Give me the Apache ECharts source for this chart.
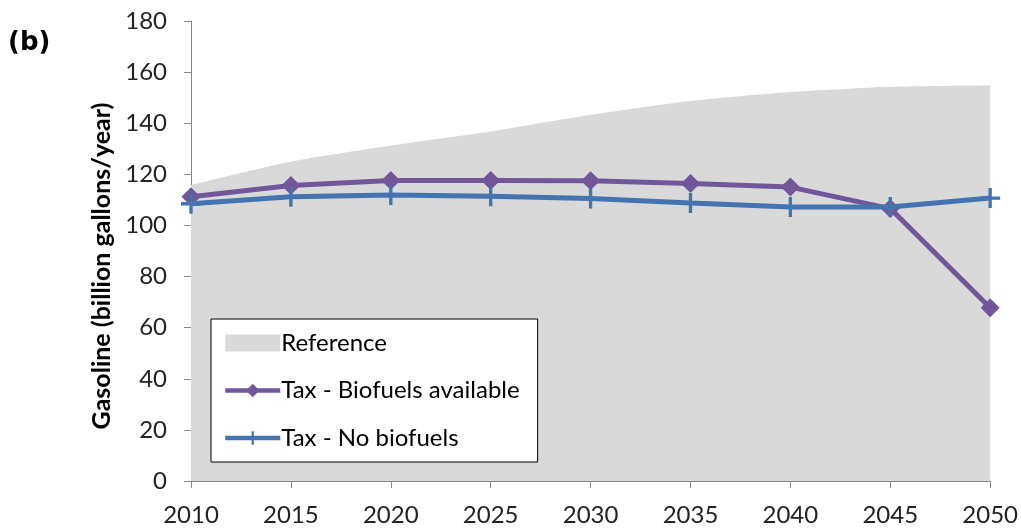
<!DOCTYPE html>
<html>
<head>
<meta charset="utf-8">
<script src="https://cdn.jsdelivr.net/npm/echarts@6/dist/echarts.min.js"></script>
<style>
  html, body { margin: 0; padding: 0; background: #fff; }
  #chart { width: 1021px; height: 529px; }
</style>
</head>
<body>
<div id="chart"></div>
<script>
// data
const years = ['2010', '2015', '2020', '2025', '2030', '2035', '2040', '2045', '2050']
const referenceValues = [115.8, 125, 131.3, 136.8, 143.3, 148.7, 152.2, 154.3, 154.8]
const biofuelsValues = [111.2, 115.6, 117.6, 117.6, 117.5, 116.4, 115.0, 106.6, 67.8]
const noBiofuelsValues = [108.5, 111.2, 111.9, 111.4, 110.5, 108.8, 107.2, 107.2, 110.7]
const yTicks = { min: 0, max: 180, interval: 20 }

const purple = '#71569a'
const blue = '#4374b0'
const font = 'Lato, "Liberation Sans", sans-serif'

// plus marker
const plusPath = 'path://M7.5,0 L10.5,0 L10.5,7.5 L18,7.5 L18,10.5 L10.5,10.5 L10.5,18 L7.5,18 L7.5,10.5 L0,10.5 L0,7.5 L7.5,7.5 Z'

const chart = echarts.init(document.getElementById('chart'))

const option = {
  animation: false,
  backgroundColor: '#fff',
  title: {
    text: '(b)',
    left: 8,
    top: 30,
    padding: 0,
    textStyle: {
      fontFamily: '"DejaVu Sans", Verdana, sans-serif',
      fontWeight: 'bold',
      fontSize: 26,
      color: '#000'
    }
  },
  grid: {
    left: 191,
    right: 30,
    top: 21,
    bottom: 48
  },
  legend: {
    orient: 'vertical',
    left: 211,
    top: 319,
    padding: [12, 18, 12, 12],
    backgroundColor: '#fff',
    borderColor: '#000',
    borderWidth: 1,
    itemWidth: 55,
    itemHeight: 17,
    itemGap: 23.5,
    textStyle: {
      fontFamily: font,
      fontSize: 24,
      lineHeight: 24,
      color: '#000',
      padding: [0, 0, 0, -4]
    },
    data: [
      { name: 'Reference', icon: 'rect' },
      { name: 'Tax - Biofuels available', lineStyle: { width: 4.5 } },
      { name: 'Tax - No biofuels', lineStyle: { width: 4.5 } }
    ]
  },
  xAxis: {
    type: 'category',
    data: years,
    boundaryGap: false,
    axisLine: { lineStyle: { color: '#868686', width: 1 } },
    axisTick: { show: true, length: 7, alignWithLabel: true, lineStyle: { color: '#868686' } },
    axisLabel: {
      margin: 22,
      fontFamily: font,
      fontSize: 24,
      color: '#222'
    },
    splitLine: { show: false }
  },
  yAxis: {
    type: 'value',
    min: yTicks.min,
    max: yTicks.max,
    interval: yTicks.interval,
    name: 'Gasoline (billion gallons/year)',
    nameLocation: 'middle',
    nameGap: 76,
    nameTextStyle: {
      fontFamily: font,
      fontWeight: 'bold',
      fontSize: 25,
      color: '#000',
      padding: [0, 30, 0, 0]
    },
    axisLine: { show: true, lineStyle: { color: '#868686', width: 1 } },
    axisTick: { show: true, length: 7, lineStyle: { color: '#868686' } },
    axisLabel: {
      margin: 24,
      fontFamily: font,
      fontSize: 24,
      color: '#222'
    },
    splitLine: { show: false }
  },
  series: [
    {
      name: 'Reference',
      type: 'line',
      data: referenceValues,
      symbol: 'none',
      smooth: 0.2,
      lineStyle: { width: 0, color: '#d9d9d9' },
      itemStyle: { color: '#d9d9d9' },
      areaStyle: { color: '#d9d9d9', opacity: 1 },
      z: 1
    },
    {
      name: 'Tax - Biofuels available',
      type: 'line',
      data: biofuelsValues,
      symbol: 'diamond',
      symbolSize: 19,
      lineStyle: { width: 5, color: purple },
      itemStyle: { color: purple },
      z: 3
    },
    {
      name: 'Tax - No biofuels',
      type: 'line',
      data: noBiofuelsValues,
      symbol: plusPath,
      symbolSize: 20,
      lineStyle: { width: 5, color: blue },
      itemStyle: { color: blue },
      z: 4
    }
  ]
}

chart.setOption(option)
</script>
</body>
</html>
